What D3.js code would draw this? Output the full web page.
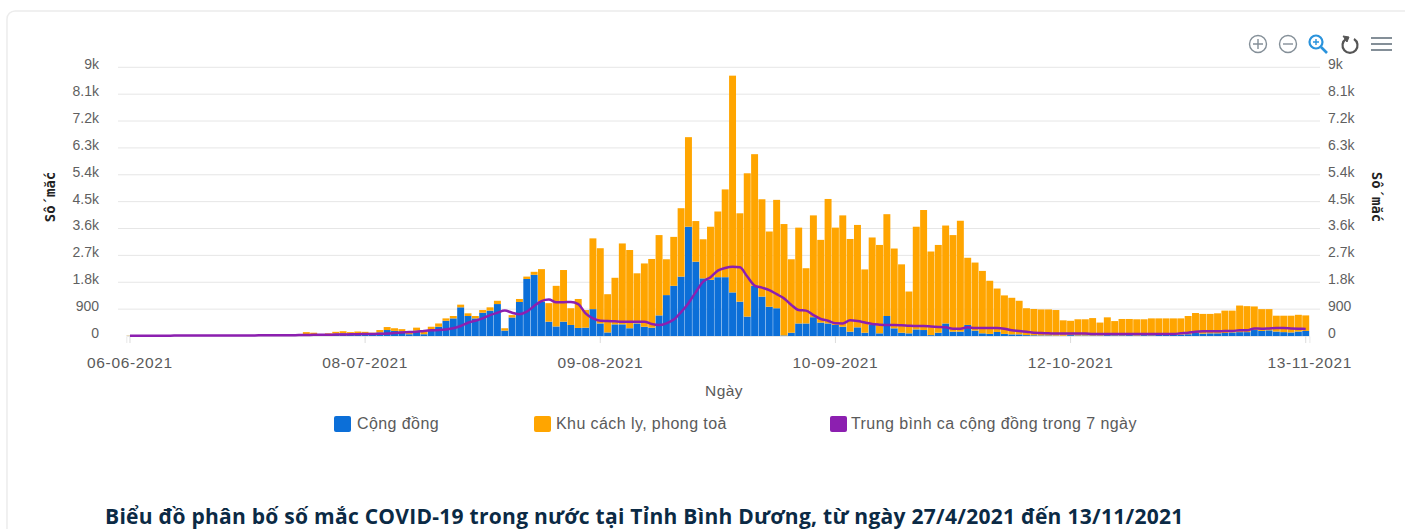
<!DOCTYPE html>
<html>
<head>
<meta charset="utf-8">
<script src="https://cdn.jsdelivr.net/npm/d3@7/dist/d3.min.js"></script>
<style>
html,body{margin:0;padding:0;background:#fff;overflow:hidden}
svg{display:block}
text{font-family:"Liberation Sans",Arial,sans-serif}
</style>
</head>
<body>
<svg id="chart" width="1405" height="529"></svg>
<script>
const startDate = "2021-06-06";
const dayCount = 161;
const xTickLabels = ["06-06-2021","08-07-2021","09-08-2021","10-09-2021","12-10-2021","13-11-2021"];
const yTicks = [0,900,1800,2700,3600,4500,5400,6300,7200,8100,9000];
const seriesNames = ["Cộng đồng","Khu cách ly, phong toả","Trung bình ca cộng đồng trong 7 ngày"];
const xAxisTitle = "Ngày";
const yAxisTitle = "Số mắc";
const chartTitle = "Biểu đồ phân bố số mắc COVID-19 trong nước tại Tỉnh Bình Dương, từ ngày 27/4/2021 đến 13/11/2021";

// height of the whole stack for each day
const stackTotal = [
12,10,8,10,12,10,12,14,15,12,
15,18,16,20,22,20,25,25,28,30,
28,30,35,40,130,110,60,90,140,160,
130,150,140,110,200,300,260,230,110,280,
140,310,420,590,670,1050,760,670,870,960,
1180,260,700,1240,1990,2150,2240,1100,1680,2210,
930,1240,870,3270,2940,1400,1950,3100,2880,2100,
2430,2580,3380,2570,3320,4280,6660,3850,3240,3660,
4170,4910,8720,4110,5450,6090,4580,3500,4560,3750,
2570,3630,2270,4040,3220,4590,3630,4040,3250,3720,
2230,3300,3050,4080,2930,2400,1490,3660,4220,2830,
3050,3700,3380,3860,2620,2460,2180,1850,1590,1360,
1280,1180,930,905,890,890,870,525,510,560,
560,600,450,625,500,570,570,560,560,590,
590,590,590,590,670,770,740,740,760,850,
850,1020,1000,990,900,900,680,680,680,710,690];

const community = [
4,4,3,4,5,4,5,6,6,5,
6,8,7,9,10,9,11,12,13,14,
13,14,16,18,60,50,30,60,80,90,
80,90,80,70,120,200,170,160,60,180,
60,200,310,510,590,960,670,590,780,850,
1070,180,620,1140,1910,2050,1150,480,320,480,
370,270,280,900,420,120,390,390,260,420,
310,280,690,1370,1680,1990,3660,2490,1930,1880,
1970,1970,1460,1150,650,1680,1320,980,930,20,
110,420,420,630,450,420,370,310,145,290,
110,370,90,670,257,110,90,220,200,30,
110,420,145,145,370,180,90,70,135,70,
55,55,30,25,20,20,15,10,30,20,
20,20,20,30,25,25,30,20,30,25,
40,40,40,50,60,100,80,90,90,100,
120,130,130,200,170,190,150,130,120,150,170];

const avgCommunity = [
10,10,10,11,12,12,13,13,14,14,
15,15,16,17,18,18,19,20,22,24,
25,26,28,30,34,38,40,44,48,52,
56,60,66,70,75,85,100,115,130,145,
170,190,200,220,260,335,445,510,590,700,
780,850,780,730,815,1005,1170,1220,1130,1130,
1140,1070,760,590,510,500,490,480,480,480,
480,400,365,425,550,800,1100,1470,1820,1970,
2190,2280,2320,2300,1990,1690,1620,1540,1400,1260,
1040,870,850,700,570,510,425,420,525,500,
450,400,380,370,370,360,345,335,335,320,
305,290,245,245,290,268,268,268,268,245,
190,170,145,110,100,90,80,80,80,80,
80,65,65,65,65,65,65,65,65,65,
65,65,65,90,110,145,155,155,155,170,
170,190,190,255,245,255,268,268,255,245,235];

const colors = {community:"#0c6fd8", quarantine:"#ffa500", avg:"#8c1fb0"};

const svg = d3.select("#chart");

const categories = d3.timeDay.range(new Date(startDate+"T00:00:00"), new Date(2021,10,14)).slice(0,dayCount).map(d3.timeFormat("%d-%m-%Y"));
const rows = categories.map((c,i)=>({c,community:community[i],quarantine:stackTotal[i]-community[i],avg:avgCommunity[i]}));

const x = d3.scaleBand().domain(categories).range([126.3,1309.4]).padding(0);
const y = d3.scaleLinear().domain([0,9000]).range([336,67.3]);
const fmtY = v => v>=1000 ? (v/1000)+"k" : String(v);

// card outline
svg.append("rect").attr("x",7).attr("y",11).attr("width",1500).attr("height",600).attr("rx",8)
  .attr("fill","#fff").attr("stroke","#ececec").attr("stroke-width",1.5);

// grid
svg.append("g").selectAll("line").data(yTicks.filter(d=>d>0)).join("line")
  .attr("x1",118).attr("x2",1320)
  .attr("y1",d=>y(d)).attr("y2",d=>y(d))
  .attr("stroke","#e6e6e6").attr("stroke-width",1);

// stacked bars
const stack = d3.stack().keys(["community","quarantine"])(rows);
const fills = [colors.community,colors.quarantine];
svg.append("g").selectAll("g").data(stack).join("g").attr("fill",(d,i)=>fills[i])
  .selectAll("rect").data(d=>d).join("rect")
  .attr("x",d=>x(d.data.c)+0.2)
  .attr("width",x.bandwidth()-0.4)
  .attr("y",d=>y(d[1]))
  .attr("height",d=>Math.max(0,y(d[0])-y(d[1])));

// x axis
const xAxis = d3.axisBottom(x).tickValues(xTickLabels).tickSize(7).tickPadding(14);
const gx = svg.append("g").attr("transform","translate(0,336)").call(xAxis);
gx.select(".domain").attr("stroke","#e8e8e8");
gx.selectAll(".tick line").attr("stroke","#dcdcdc");
gx.selectAll(".tick text").attr("fill","#5a5a5a").style("font-size","15.5px").style("font-family",'"Liberation Sans",Arial,sans-serif').style("letter-spacing","0.65px");
gx.selectAll(".tick").filter(d=>d==="13-11-2021").select("text").attr("dx",4);

// y axes
const yL = d3.axisLeft(y).tickValues(yTicks).tickFormat(fmtY).tickSize(0).tickPadding(20);
const gl = svg.append("g").attr("transform","translate(119,0)").call(yL);
gl.select(".domain").remove();
const yR = d3.axisRight(y).tickValues(yTicks).tickFormat(fmtY).tickSize(0).tickPadding(8);
const gr = svg.append("g").attr("transform","translate(1320,0)").call(yR);
gr.select(".domain").remove();
[gl,gr].forEach(g=>g.selectAll(".tick text").attr("fill","#5f5f5f").attr("dy","0.1em").style("font-size","14px").style("font-family",'"Liberation Sans",Arial,sans-serif'));

// avg line
const line = d3.line().x(d=>x(d.c)+x.bandwidth()/2).y(d=>y(d.avg)).curve(d3.curveMonotoneX);
svg.append("path").datum(rows).attr("d",line).attr("fill","none").attr("stroke",colors.avg).attr("stroke-width",2.5);

// axis titles
svg.append("text").attr("x",724).attr("y",396).attr("text-anchor","middle").attr("fill","#5a5a5a").style("font-size","15.5px").style("letter-spacing","0.4px").text(xAxisTitle);
const titleFont = '"DejaVu Sans Mono",monospace';
svg.append("text").attr("transform","translate(55,197) rotate(-90)").attr("text-anchor","middle").attr("fill","#222")
  .style("font-family",titleFont).style("font-weight","bold").style("font-size","14px").text(yAxisTitle);
svg.append("text").attr("transform","translate(1372,197) rotate(90)").attr("text-anchor","middle").attr("fill","#222")
  .style("font-family",titleFont).style("font-weight","bold").style("font-size","14px").text(yAxisTitle);

// legend
const legendItems = [
 {x:334,tx:357,c:colors.community,t:seriesNames[0]},
 {x:534,tx:556,c:colors.quarantine,t:seriesNames[1]},
 {x:830,tx:851,c:colors.avg,t:seriesNames[2]}];
const lg = svg.append("g").selectAll("g").data(legendItems).join("g");
lg.append("rect").attr("x",d=>d.x).attr("y",416).attr("width",17).attr("height",16).attr("rx",2).attr("fill",d=>d.c);
lg.append("text").attr("x",d=>d.tx).attr("y",429).attr("fill","#5a5a5a").style("font-size","16px").style("letter-spacing","0.42px").text(d=>d.t);

// title
svg.append("text").attr("x",105).attr("y",524).attr("fill","#0b2a45")
  .style("font-family",'"Open Sans",sans-serif').style("font-weight","700").style("font-size","21px").style("letter-spacing","0.27px").text(chartTitle);

// toolbar icons
const grey="#848f98", ic=svg.append("g").attr("fill","none").attr("stroke",grey).attr("stroke-width",1.4);
ic.append("circle").attr("cx",1258).attr("cy",44).attr("r",8.5);
ic.append("path").attr("d","M1253 44h10M1258 39v10");
ic.append("circle").attr("cx",1288).attr("cy",44).attr("r",8.5);
ic.append("path").attr("d","M1283 44h10");
ic.append("circle").attr("cx",1316).attr("cy",42).attr("r",6.5).attr("stroke","#2a93dc").attr("stroke-width",2.2);
ic.append("path").attr("d","M1321 47l6 6").attr("stroke","#2a93dc").attr("stroke-width",2.6);
ic.append("path").attr("d","M1313 42h6M1316 39v6").attr("stroke","#2a93dc").attr("stroke-width",1.4);
ic.append("path").attr("d","M1346 39a7.5 7.5 0 1 0 8 0").attr("stroke","#555").attr("stroke-width",2.2);
ic.append("path").attr("d","M1343 36l6 1-2 5z").attr("fill","#555").attr("stroke","#555").attr("stroke-width",1);
ic.append("path").attr("d","M1371 38h21M1371 44h21M1371 50h21").attr("stroke","#848f98").attr("stroke-width",2.2);
</script>
</body>
</html>
